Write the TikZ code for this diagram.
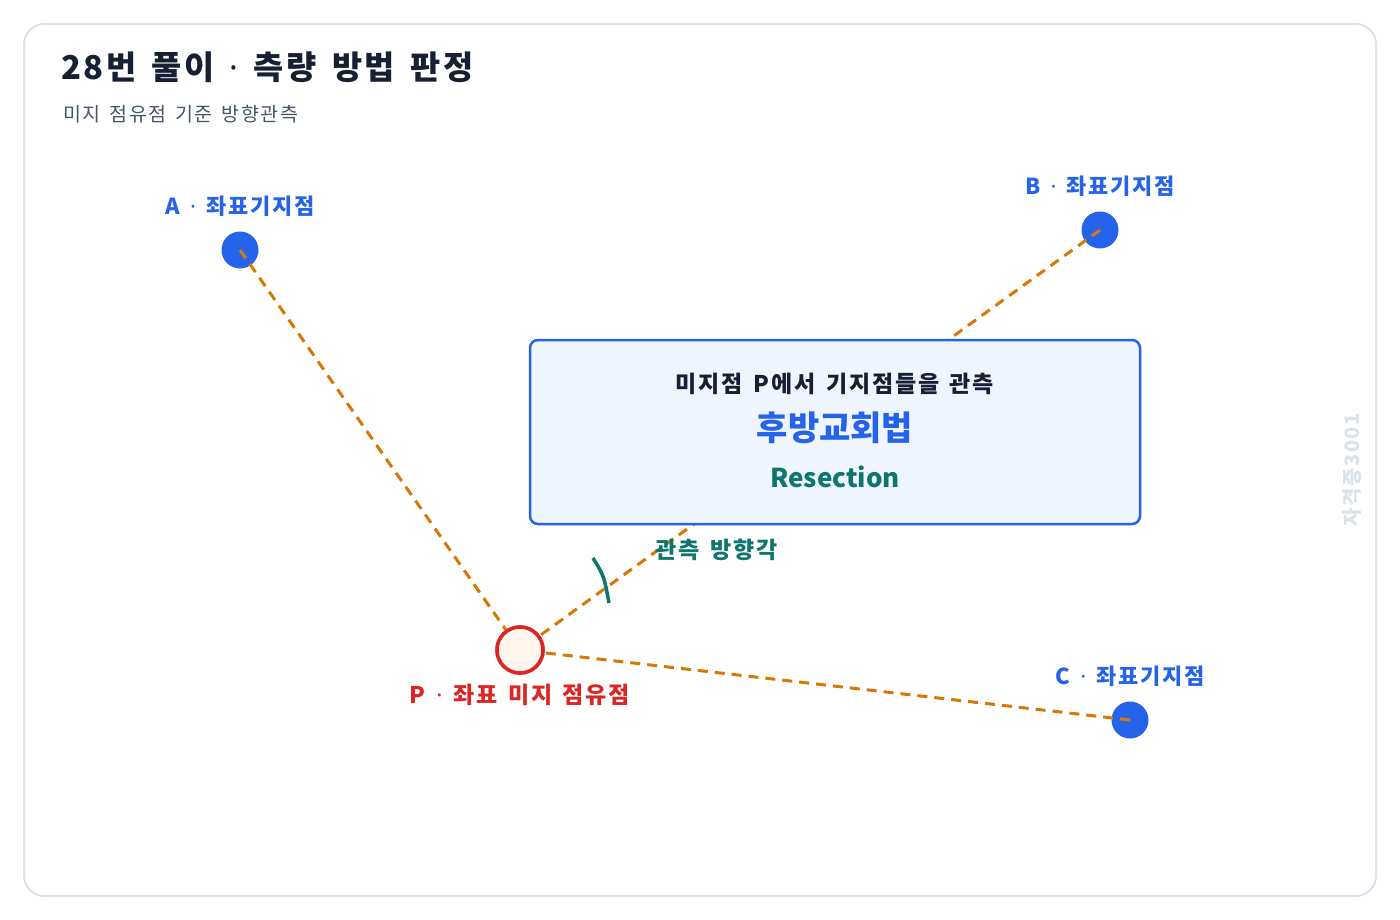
\documentclass[tikz,border=0pt]{standalone}
\usepackage{fontspec}
\setmainfont{Noto Sans CJK KR}[WordSpace=1.5, LetterSpace=8]
\newfontfamily\plainfont{Noto Sans CJK KR}
\newfontfamily\dotfont{Noto Sans}
\newcommand\mdot{{\dotfont ·}}
\definecolor{frame}{HTML}{DBE3EC}
\definecolor{ink}{HTML}{172033}
\definecolor{sub}{HTML}{475569}
\definecolor{pblue}{HTML}{2563EB}
\definecolor{orng}{HTML}{D97706}
\definecolor{pred}{HTML}{DC2626}
\definecolor{pfill}{HTML}{FFF7ED}
\definecolor{boxfill}{HTML}{EFF6FF}
\definecolor{teal}{HTML}{0F766E}
\definecolor{wm}{HTML}{DCE2EA}
\tikzset{
  known/.style={circle, fill=pblue, minimum size=37pt, inner sep=0pt},
  unknown/.style={circle, draw=pred, line width=3.5pt, fill=pfill, minimum size=46pt, inner sep=0pt},
  sightline/.style={draw=orng, line width=3pt, dash pattern=on 10pt off 7pt},
  ptlabel/.style={font=\fontsize{22}{26}\selectfont\bfseries, text=pblue, inner sep=0pt},
}
\begin{document}
\begin{tikzpicture}[x=1pt,y=-1pt]
\useasboundingbox (0,0) rectangle (1400,920);
\fill[white] (0,0) rectangle (1400,920);
\draw[frame, line width=2pt, rounded corners=20pt] (24,24) rectangle (1376,896);
\node[anchor=base west, inner sep=0pt, text=ink, font=\fontsize{32.8}{36}\selectfont\bfseries] (title) at (61,80) {28번 풀이 \mdot{} 측량 방법 판정};
\node[anchor=base west, inner sep=0pt, text=sub, font=\fontsize{19.5}{23}\selectfont] (subtitle) at (63,122) {미지 점유점 기준 방향관측};
\node[known] (A) at (240,250) {};
\node[known] (B) at (1100,230) {};
\node[known] (C) at (1130,720) {};
\node[unknown] (P) at (520,650) {};
\draw[sightline] (A.center) -- (P);
\draw[sightline] (B.center) -- (P);
\draw[sightline] (C.center) -- (P);
\node[draw=pblue, line width=2.5pt, fill=boxfill, rounded corners=8pt, minimum width=610pt, minimum height=184pt] (box) at (835,432) {};
\node[unknown] at (P) {};
\node[text=ink, font=\fontsize{23}{27}\selectfont\bfseries, inner sep=0pt] (l1) at (835,384) {미지점 P에서 기지점들을 관측};
\node[text=pblue, font=\plainfont\fontsize{34}{38}\selectfont\bfseries, inner sep=0pt] (l2) at (835,428) {후방교회법};
\node[text=teal, font=\plainfont\fontsize{26}{30}\selectfont\bfseries, inner sep=0pt] (l3) at (835,477) {Resection};
\draw[teal, line width=3.5pt] (593,558) .. controls (604,576) .. (609,603);
\node[text=teal, font=\fontsize{23}{27}\selectfont\bfseries, inner sep=0pt, anchor=west] (ang) at (655,550) {관측 방향각};
\node[ptlabel] (Al) at (240,206) {A \mdot{} 좌표기지점};
\node[ptlabel] (Bl) at (1100,186) {B \mdot{} 좌표기지점};
\node[ptlabel] (Cl) at (1130,676) {C \mdot{} 좌표기지점};
\node[ptlabel, text=pred, font=\fontsize{23}{27}\selectfont\bfseries] (Pl) at (520,695) {P \mdot{} 좌표 미지 점유점};
\node[text=wm, rotate=90, font=\fontsize{20}{24}\selectfont\bfseries, inner sep=0pt] (wmk) at (1352,470) {자격증3001};
\end{tikzpicture}
\end{document}
